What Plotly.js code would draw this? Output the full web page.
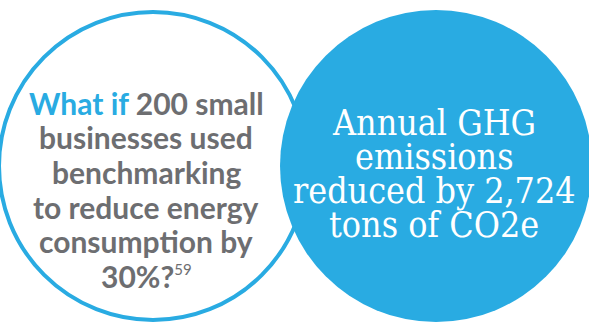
<!DOCTYPE html>
<html>
<head>
<meta charset="utf-8">
<script src="https://cdn.plot.ly/plotly-3.0.1.min.js"></script>
<style>
html,body{margin:0;padding:0;background:#fff;}
#chart{width:589px;height:325px;}
</style>
</head>
<body>
<div id="chart"></div>
<script>
// Text content
var leftLines = [
  '<b><span style="color:#29ABE2">What if</span> 200 small</b>',
  '<b>businesses used</b>',
  '<b>benchmarking</b>',
  '<b>to reduce energy</b>',
  '<b>consumption by</b>',
  '<b>30%?</b><sup><span style="font-size:15px">59</span></sup>'
];
var rightLines = [
  'Annual GHG',
  'emissions',
  'reduced by 2,724',
  'tons of CO2e'
];
var leftBaselines = [113, 147.7, 182.4, 217.1, 251.8, 286.5];
var rightBaselines = [135, 168.5, 203, 237];

var BLUE = '#29ABE2';
var GRAY = '#6D6E71';

var annotations = [];
leftLines.forEach(function(t, i){
  annotations.push({
    x: 146, y: leftBaselines[i] + 8.5, xref:'x', yref:'y',
    text: t, showarrow:false,
    xanchor:'center', yanchor:'bottom', borderpad:0,
    font:{family:'Lato, "Open Sans", sans-serif', size:30, color:GRAY}
  });
});
rightLines.forEach(function(t, i){
  annotations.push({
    x: 434, y: rightBaselines[i] + 9, xref:'x', yref:'y',
    text: t, showarrow:false,
    xanchor:'center', yanchor:'bottom', borderpad:0,
    font:{family:'"DejaVu Serif Condensed", "DejaVu Serif", serif', size:35.5, color:'#ffffff'}
  });
});

var shapes = [
  {type:'circle', xref:'x', yref:'y', x0:153-154, x1:153+154, y0:166-154, y1:166+154,
   line:{color:BLUE, width:4}, fillcolor:'#ffffff', layer:'below'},
  {type:'circle', xref:'x', yref:'y', x0:436-156, x1:436+156, y0:166-156, y1:166+156,
   line:{width:0}, fillcolor:BLUE, layer:'below'}
];

var layout = {
  width:589, height:325,
  margin:{l:0,r:0,t:0,b:0},
  paper_bgcolor:'#ffffff', plot_bgcolor:'#ffffff',
  showlegend:false,
  xaxis:{range:[0,589], visible:false, fixedrange:true},
  yaxis:{range:[325,0], visible:false, fixedrange:true},
  shapes:shapes,
  annotations:annotations
};

Plotly.newPlot('chart', [], layout, {displayModeBar:false, staticPlot:true});
</script>
</body>
</html>
